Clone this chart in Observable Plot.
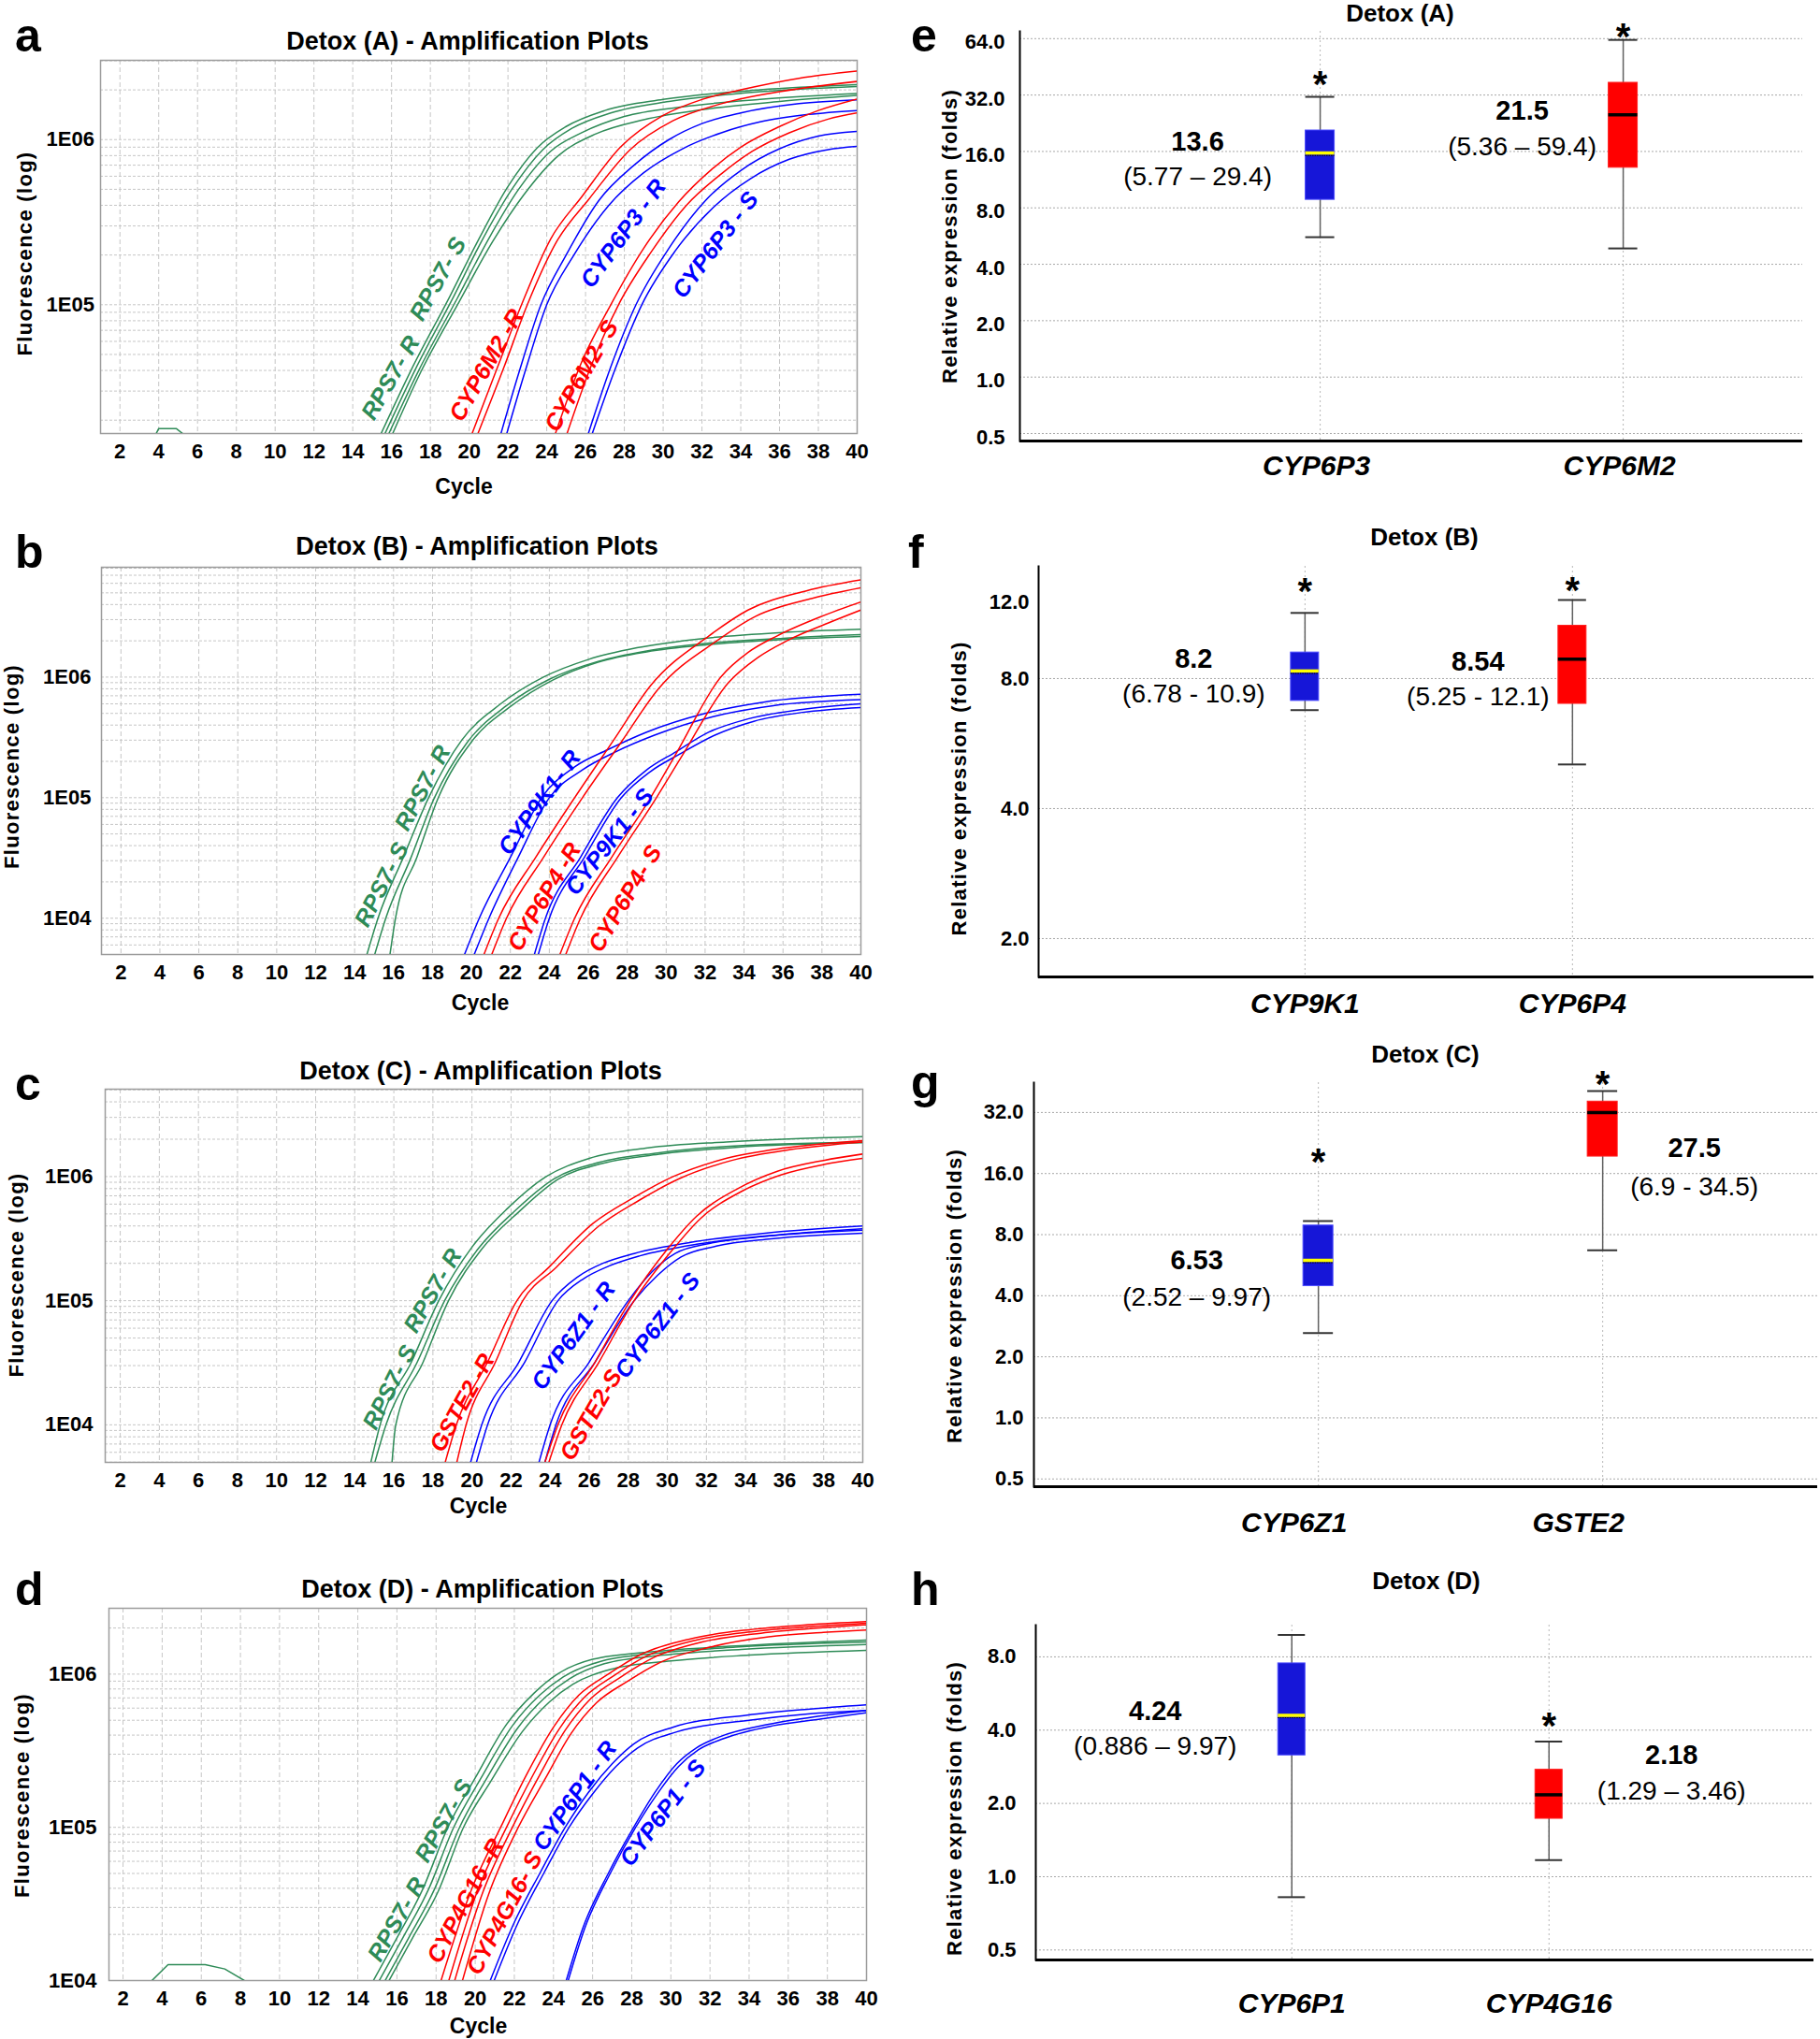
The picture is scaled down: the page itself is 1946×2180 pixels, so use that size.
<!DOCTYPE html>
<html><head><meta charset="utf-8">
<script src="https://cdn.jsdelivr.net/npm/d3@7"></script>
<script src="https://cdn.jsdelivr.net/npm/@observablehq/plot@0.6"></script>
<style>
body{margin:0;background:#fff}
#fig{position:relative;width:1946px;height:2180px;background:#fff;font-family:"Liberation Sans",Arial,Helvetica,sans-serif;color:#000;overflow:hidden}
.t{position:absolute;white-space:nowrap;line-height:1;font-weight:bold}
.panel{position:absolute}
</style></head><body><div id="fig"></div><script>
// ================= DATA =================
const cycleTicks = [2,4,6,8,10,12,14,16,18,20,22,24,26,28,30,32,34,36,38,40];

// ---- Panel a: Detox (A) amplification curves [cycle, fluorescence]
const aRPS7 = [
 [[15.4,1.6e4],[17,4.0e4],[19,1.12e5],[20.5,2.5e5],[22,5.2e5],[23.5,8.9e5],[25,1.2e6],[27,1.5e6],[30,1.75e6],[35,2.0e6],[40,2.15e6]],
 [[15.6,1.6e4],[17.2,4.0e4],[19.2,1.12e5],[20.7,2.5e5],[22.2,5.0e5],[23.8,8.7e5],[25.3,1.17e6],[27.3,1.45e6],[30.3,1.7e6],[35,1.95e6],[40,2.1e6]],
 [[15.8,1.6e4],[17.4,4.0e4],[19.4,1.1e5],[21,2.5e5],[22.5,4.9e5],[24.2,8.5e5],[25.8,1.1e6],[28,1.38e6],[31,1.58e6],[35,1.75e6],[40,1.9e6]],
 [[16.0,1.6e4],[17.5,3.9e4],[19.5,1.05e5],[21.2,2.4e5],[22.8,4.6e5],[24.6,8.0e5],[26.5,1.08e6],[29,1.32e6],[32,1.52e6],[36,1.7e6],[40,1.85e6]]
];
const aCYP6M2R = [
 [[20.1,1.6e4],[21.5,4.3e4],[22.7,1.0e5],[24.2,2.5e5],[25.8,4.5e5],[27.8,9.0e5],[30,1.4e6],[32,1.75e6],[34,2.0e6],[37,2.35e6],[40,2.6e6]],
 [[20.4,1.6e4],[21.8,4.2e4],[23.0,1.0e5],[24.5,2.4e5],[26.2,4.4e5],[28.3,8.7e5],[30.5,1.3e6],[33,1.65e6],[36,1.95e6],[40,2.25e6]]
];
const aCYP6P3R = [
 [[21.6,1.6e4],[22.6,4.0e4],[23.7,1.0e5],[25,2.0e5],[26.7,4.3e5],[28.5,7.0e5],[30.3,1.0e6],[32,1.25e6],[34,1.45e6],[37,1.65e6],[40,1.74e6]],
 [[21.9,1.6e4],[22.9,4.0e4],[24.0,1.0e5],[25.4,2.0e5],[27.2,4.0e5],[29,6.3e5],[31,8.8e5],[33,1.1e6],[35,1.28e6],[37.5,1.42e6],[40,1.5e6]]
];
const aCYP6M2S = [
 [[24.4,1.6e4],[25.8,4.5e4],[27.3,1.0e5],[29,2.2e5],[30.8,4.2e5],[32.5,6.6e5],[34,9.0e5],[36,1.2e6],[38,1.5e6],[40,1.76e6]],
 [[25.0,1.6e4],[26.3,4.3e4],[27.7,1.0e5],[29.4,2.1e5],[31.2,4.0e5],[33,6.2e5],[34.6,8.5e5],[36.5,1.1e6],[38.5,1.33e6],[40,1.45e6]]
];
const aCYP6P3S = [
 [[26.1,1.6e4],[27.3,4.2e4],[28.6,1.0e5],[30.3,2.2e5],[32.2,4.3e5],[34,6.5e5],[36,8.8e5],[38,1.05e6],[40,1.12e6]],
 [[26.3,1.6e4],[27.5,4.0e4],[28.9,1.0e5],[30.6,2.1e5],[32.6,3.9e5],[34.5,5.8e5],[36.5,7.6e5],[38.5,8.7e5],[40,9.1e5]]
];
const aNoise = [[3.8,1.6e4],[4.0,1.78e4],[4.9,1.78e4],[5.4,1.6e4]];
const aLabelText = ["RPS7- R","RPS7- S","CYP6M2 -R","CYP6M2- S","CYP6P3 - R","CYP6P3 - S"];

// ---- Panel b: Detox (B)
const bRPS7 = [
 [[14.6,4.8e3],[15.2,1.0e4],[16.5,3.2e4],[17.8,1.0e5],[19.5,3.0e5],[21.5,6.0e5],[23.7,1.0e6],[26,1.4e6],[28.5,1.75e6],[32,2.1e6],[36,2.35e6],[40,2.5e6]],
 [[15.0,4.8e3],[15.6,1.0e4],[16.9,3.2e4],[18.1,1.0e5],[19.8,2.9e5],[21.8,5.8e5],[24,9.6e5],[26.5,1.35e6],[29,1.65e6],[32,1.9e6],[36,2.1e6],[40,2.25e6]],
 [[15.8,4.8e3],[16.1,1.0e4],[17.2,3.2e4],[18.3,1.0e5],[20,2.9e5],[22,5.7e5],[24.2,9.5e5],[26.5,1.33e6],[29,1.62e6],[32,1.85e6],[36,2.05e6],[40,2.17e6]]
];
const bCYP9K1R = [
 [[19.6,4.8e3],[20.4,1.0e4],[22,3.2e4],[23.6,1.0e5],[25.3,1.8e5],[27,2.5e5],[29,3.5e5],[32,5.0e5],[35,6.2e5],[40,7.2e5]],
 [[20.1,4.8e3],[20.9,1.0e4],[22.4,3.2e4],[24,1.0e5],[25.7,1.7e5],[27.4,2.4e5],[29.4,3.3e5],[32.4,4.7e5],[35.5,5.8e5],[40,6.5e5]]
];
const bCYP6P4R = [
 [[20.6,4.8e3],[21.4,1.0e4],[23.3,3.2e4],[25.3,1.0e5],[27.3,3.0e5],[29.2,8.5e5],[32.2,2.2e6],[34.2,3.6e6],[37.2,5.2e6],[40,6.4e6]],
 [[21.0,4.8e3],[21.8,1.0e4],[23.7,3.2e4],[25.7,1.0e5],[27.7,2.9e5],[29.6,8.0e5],[32.6,2.0e6],[34.6,3.2e6],[37.5,4.5e6],[40,5.5e6]]
];
const bCYP9K1S = [
 [[23.2,4.8e3],[23.8,1.0e4],[25.6,3.2e4],[27.5,1.0e5],[29,1.7e5],[30.5,2.4e5],[32.2,3.5e5],[34.2,4.5e5],[37,5.4e5],[40,6.0e5]],
 [[23.4,4.8e3],[24.0,1.0e4],[25.8,3.2e4],[27.7,1.0e5],[29.2,1.65e5],[30.7,2.3e5],[32.5,3.3e5],[34.5,4.3e5],[37,5.1e5],[40,5.6e5]]
];
const bCYP6P4S = [
 [[24.5,4.8e3],[25.3,1.0e4],[27.2,3.2e4],[29.2,1.0e5],[30.5,2.3e5],[32.8,1.0e6],[34.2,1.6e6],[35.7,2.2e6],[38,3.2e6],[40,4.2e6]],
 [[24.8,4.8e3],[25.6,1.0e4],[27.5,3.2e4],[29.5,1.0e5],[30.8,2.2e5],[33.2,9.0e5],[34.7,1.45e6],[36.2,2.0e6],[38.3,2.8e6],[40,3.6e6]]
];
const bLabelText = ["RPS7- S","RPS7- R","CYP9K1- R","CYP6P4 -R","CYP9K1 - S","CYP6P4- S"];

// ---- Panel c: Detox (C)
const cRPS7 = [
 [[14.8,4.8e3],[15.3,1.0e4],[16.9,3.2e4],[18.3,1.0e5],[20,2.7e5],[21.8,5.5e5],[23.8,1.0e6],[26,1.4e6],[29,1.7e6],[33,1.9e6],[40,2.1e6]],
 [[15.0,4.8e3],[15.6,1.0e4],[17.2,3.2e4],[18.6,1.0e5],[20.3,2.6e5],[22.2,5.3e5],[24.2,9.6e5],[26.5,1.3e6],[29.5,1.55e6],[33,1.75e6],[40,1.9e6]],
 [[15.9,4.8e3],[16.1,1.0e4],[17.5,3.2e4],[18.8,1.0e5],[20.5,2.6e5],[22.4,5.2e5],[24.4,9.5e5],[26.7,1.28e6],[29.7,1.52e6],[33.5,1.72e6],[40,1.87e6]]
];
const cGSTE2R = [
 [[18.6,4.8e3],[19.2,1.0e4],[20.8,3.2e4],[22.3,1.0e5],[24,1.9e5],[26.2,4.2e5],[28.3,6.8e5],[30.3,1.0e6],[33,1.4e6],[36,1.7e6],[40,1.95e6]],
 [[19.2,4.8e3],[19.7,1.0e4],[21.2,3.2e4],[22.6,1.0e5],[24.3,1.85e5],[26.5,4.0e5],[28.6,6.5e5],[30.6,9.6e5],[33.3,1.35e6],[36.3,1.65e6],[40,1.9e6]]
];
const cCYP6Z1R = [
 [[19.9,4.8e3],[20.5,1.0e4],[22.4,3.2e4],[24.1,1.0e5],[25.4,1.55e5],[26.7,2.0e5],[28.3,2.4e5],[31.2,2.95e5],[35,3.5e5],[40,4.0e5]],
 [[20.2,4.8e3],[20.8,1.0e4],[22.7,3.2e4],[24.4,1.0e5],[25.7,1.5e5],[27,1.9e5],[28.6,2.3e5],[31.5,2.85e5],[35.3,3.35e5],[40,3.8e5]]
];
const cCYP6Z1S = [
 [[23.4,4.8e3],[24.0,1.0e4],[26.0,3.2e4],[28.0,1.0e5],[29.2,1.7e5],[30.4,2.4e5],[32.2,2.9e5],[35,3.3e5],[40,3.7e5]],
 [[23.7,4.8e3],[24.3,1.0e4],[26.3,3.2e4],[28.3,1.0e5],[29.5,1.6e5],[30.7,2.25e5],[32.5,2.75e5],[35.3,3.15e5],[40,3.5e5]]
];
const cGSTE2S = [
 [[23.7,4.8e3],[24.4,1.0e4],[26.3,3.2e4],[28.1,1.0e5],[30,2.6e5],[31.5,4.8e5],[33.6,8.0e5],[35.6,1.1e6],[38,1.35e6],[40,1.52e6]],
 [[23.9,4.8e3],[24.6,1.0e4],[26.5,3.2e4],[28.3,1.0e5],[30.2,2.5e5],[31.7,4.6e5],[33.8,7.6e5],[35.8,1.03e6],[38,1.25e6],[40,1.4e6]]
];
const cLabelText = ["RPS7- S","RPS7- R","GSTE2 -R","CYP6Z1 - R","GSTE2-S","CYP6Z1 - S"];

// ---- Panel d: Detox (D)
const dRPS7 = [
 [[14.7,9.5e3],[16,1.9e4],[17.3,3.9e4],[18.6,1e5],[20,2.1e5],[21.6,4.7e5],[23,7.5e5],[24.2,1.0e6],[26,1.25e6],[29,1.4e6],[33,1.52e6],[40,1.67e6]],
 [[15.0,9.5e3],[16.3,1.9e4],[17.6,3.9e4],[18.9,1e5],[20.3,2.1e5],[21.9,4.6e5],[23.3,7.3e5],[24.5,9.6e5],[26.3,1.2e6],[29.3,1.37e6],[33.3,1.5e6],[40,1.62e6]],
 [[15.3,9.5e3],[16.6,1.9e4],[17.9,3.9e4],[19.2,1e5],[20.6,2.1e5],[22.2,4.5e5],[23.6,7.1e5],[24.8,9.3e5],[26.6,1.17e6],[29.6,1.33e6],[33.6,1.45e6],[40,1.56e6]],
 [[15.5,9.5e3],[16.8,1.9e4],[18.1,3.8e4],[19.4,1e5],[20.8,2.0e5],[22.4,4.2e5],[23.8,6.6e5],[25,8.6e5],[27,1.08e6],[30,1.22e6],[34,1.33e6],[40,1.43e6]]
];
const dCYP4G16 = [
 [[18.2,9.5e3],[19.8,3.9e4],[21.3,1e5],[22.7,2.3e5],[24,4.5e5],[25.3,7.3e5],[26.8,1.0e6],[28.5,1.35e6],[31,1.7e6],[34,1.95e6],[37,2.1e6],[40,2.2e6]],
 [[18.6,9.5e3],[20.1,3.8e4],[21.6,1e5],[23,2.25e5],[24.3,4.4e5],[25.6,7.1e5],[27.1,9.8e5],[28.8,1.32e6],[31.3,1.67e6],[34.3,1.9e6],[37.3,2.05e6],[40,2.15e6]],
 [[18.9,9.5e3],[20.4,3.8e4],[21.9,1e5],[23.3,2.2e5],[24.6,4.3e5],[25.9,6.9e5],[27.4,9.5e5],[29.1,1.28e6],[31.6,1.62e6],[34.6,1.85e6],[37.6,2.0e6],[40,2.1e6]],
 [[19.3,9.5e3],[20.7,3.7e4],[22.2,1e5],[23.6,2.1e5],[24.9,4.1e5],[26.2,6.5e5],[27.8,9.0e5],[29.5,1.2e6],[32,1.5e6],[35,1.75e6],[37.8,1.87e6],[40,1.94e6]]
];
const dCYP6P1R = [
 [[20.7,9.5e3],[22,2.4e4],[23.3,5.0e4],[24.6,1e5],[25.8,1.7e5],[27,2.6e5],[28.1,3.5e5],[30.1,4.5e5],[33.9,5.4e5],[37,5.9e5],[40,6.3e5]],
 [[20.9,9.5e3],[22.2,2.4e4],[23.5,5.0e4],[24.8,1e5],[26,1.65e5],[27.2,2.5e5],[28.3,3.3e5],[30.3,4.2e5],[34,5.0e5],[37,5.5e5],[40,5.8e5]]
];
const dCYP6P1S = [
 [[24.6,9.5e3],[25.5,2.2e4],[26.8,5.0e4],[28.1,1e5],[29.2,1.7e5],[30.3,2.6e5],[31.3,3.3e5],[32.5,3.9e5],[35,4.7e5],[37.5,5.3e5],[40,5.8e5]],
 [[24.7,9.5e3],[25.6,2.2e4],[26.9,5.0e4],[28.2,1e5],[29.3,1.65e5],[30.4,2.5e5],[31.4,3.2e5],[32.7,3.8e5],[35.2,4.6e5],[37.7,5.1e5],[40,5.6e5]]
];
const dNoise = [[3.3,9.5e3],[4.3,1.27e4],[6.2,1.27e4],[7.2,1.19e4],[8.5,9.5e3]];
const dLabelText = ["RPS7- R","RPS7- S","CYP4G16 -R","CYP4G16- S","CYP6P1 - R","CYP6P1 - S"];

// ---- Box plots (relative expression, folds)
const genesE = ["CYP6P3","CYP6M2"];
const loE = [5.58,4.86], q1E = [8.83,13.1], medE = [15.7,25.1], q3E = [20.7,37.2], hiE = [31.3,63.0];
const notesE = [["13.6","(5.77 – 29.4)"],["21.5","(5.36 – 59.4)"]];
const starE = [true,true];

const genesF = ["CYP9K1","CYP6P4"];
const loF = [6.76,5.06], q1F = [7.1,6.99], medF = [8.33,8.87], q3F = [9.19,10.6], hiF = [11.35,12.16];
const notesF = [["8.2","(6.78 - 10.9)"],["8.54","(5.25 - 12.1)"]];
const starF = [true,true];

const genesG = ["CYP6Z1","GSTE2"];
const loG = [2.62,6.69], q1G = [4.46,19.4], medG = [5.98,32.0], q3G = [8.87,36.2], hiG = [9.34,40.8];
const notesG = [["6.53","(2.52 – 9.97)"],["27.5","(6.9 - 34.5)"]];
const starG = [true,true];

const genesH = ["CYP6P1","CYP4G16"];
const loH = [0.824,1.17], q1H = [3.15,1.73], medH = [4.6,2.17], q3H = [7.52,2.75], hiH = [9.84,3.59];
const notesH = [["4.24","(0.886 – 9.97)"],["2.18","(1.29 – 3.46)"]];
const starH = [false,true];

const foldTicks8 = [0.5,1,2,4,8,16,32,64];
const foldTicksF = [2,4,8,12];
const foldGridF = [2,4,8];
const foldTicksG = [0.5,1,2,4,8,16,32];
const foldTicksH = [0.5,1,2,4,8];

// ================= LAYOUT / STYLE =================
const FONT = "'Liberation Sans', Arial, Helvetica, sans-serif";
const COL = {g:"#2e8b57", r:"#ff0000", b:"#0000ff"};
const BOXFILL = ["#1616d8","#ff0000"], BOXEDGE = ["#4a4aff","#ff2020"], MEDC = ["#ffff00","#000000"];
const SPACED = ["Fluorescence (log)", "Relative expression (folds)"];
const fig = document.getElementById("fig");

function txt(s, x, baseline, size, opts = {}) {
  const d = document.createElement("div");
  d.className = "t"; d.textContent = s;
  d.style.fontSize = size + "px";
  d.style.top = (baseline - 0.8465 * size) + "px";
  d.style.left = x + "px";
  if (opts.center) d.style.transform = "translateX(-50%)";
  fig.appendChild(d);
}
function place(el, left, top) {
  const w = document.createElement("div");
  w.className = "panel"; w.style.left = left + "px"; w.style.top = top + "px";
  w.appendChild(el); fig.appendChild(w);
  d3.select(el).selectAll("text").filter(function() { return SPACED.includes(this.textContent); })
    .attr("letter-spacing", "1.3px").style("letter-spacing", "1.3px");
}

function ampPanel(p) {
  const rows = [];
  p.groups.forEach(([curves, k], gi) => curves.forEach((pts, ci) =>
    pts.forEach(([c, f]) => rows.push({id: gi + "-" + ci, c, f, col: COL[k]}))));
  const noise = p.noise.map(([c, f]) => ({c, f}));
  const labels = p.labelText.map((t, i) => ({t, c: p.labelPos[i][0], f: p.labelPos[i][1], a: p.labelPos[i][2], col: COL[p.labelPos[i][3]]}));
  const minor = d3.scaleLog().domain(p.yDomain).ticks();
  return Plot.plot({
    width: 960, height: p.height,
    marginLeft: p.mL, marginRight: p.mR, marginTop: p.mT, marginBottom: p.mB,
    style: {fontFamily: FONT, fontSize: "22px", fontWeight: "bold", color: "#000", background: "transparent", overflow: "visible"},
    x: {domain: p.xDomain, label: null},
    y: {type: "log", domain: p.yDomain, label: null},
    color: {type: "identity"},
    marks: [
      Plot.gridY(minor, {stroke: "#c6c6c6", strokeOpacity: 1, strokeDasharray: "3,2"}),
      Plot.gridX(cycleTicks, {stroke: "#c6c6c6", strokeOpacity: 1, strokeDasharray: "5,3"}),
      Plot.frame({stroke: "#9c9c9c", strokeWidth: 1.5}),
      Plot.axisX(cycleTicks, {tickSize: 0, tickPadding: 11, fontSize: 22, label: null}),
      Plot.axisY(p.yTicks, {tickSize: 0, tickPadding: p.yPad, fontSize: 22, label: null,
        tickFormat: d => "1E0" + Math.round(Math.log10(d))}),
      Plot.line(noise, {x: "c", y: "f", stroke: COL.g, strokeWidth: 1.5, clip: true}),
      Plot.line(rows, {x: "c", y: "f", z: "id", stroke: "col", strokeWidth: 1.5, curve: "monotone-x", clip: true}),
      Plot.text(labels, {x: "c", y: "f", text: "t", rotate: "a", fill: "col", fontSize: 25, fontStyle: "italic", fontWeight: "bold"}),
      Plot.text(["Cycle"], {text: d => d, frameAnchor: "bottom", lineAnchor: "middle", textAnchor: "middle", dy: p.cycleDy, dx: p.cycleDx, fontSize: 23}),
      Plot.text(["Fluorescence (log)"], {text: d => d, frameAnchor: "left", textAnchor: "middle", lineAnchor: "middle", dx: p.flDx, dy: p.flDy, rotate: -90, fontSize: 22})
    ]
  });
}

function boxPanel(p) {
  const rows = p.genes.map((gene, i) => ({gene, lo: p.lo[i], q1: p.q1[i], med: p.med[i], q3: p.q3[i], hi: p.hi[i],
    fill: BOXFILL[i], edge: BOXEDGE[i], medc: MEDC[i]}));
  const notes = [];
  p.notes.forEach((pair, i) => {
    notes.push(Plot.text([pair[0]], {text: d => d, x: () => p.genes[i], y: () => p.noteY[i][0], dx: p.noteDx[i], fontSize: 29, fontWeight: "bold"}));
    notes.push(Plot.text([pair[1]], {text: d => d, x: () => p.genes[i], y: () => p.noteY[i][1], dx: p.noteDx[i], fontSize: 28, fontWeight: "normal"}));
  });
  const stars = p.genes.map((gene, i) => ({gene, y: p.starY[i]})).filter((d, i) => p.star[i]);
  return Plot.plot({
    width: 986, height: p.height,
    marginLeft: p.mL, marginRight: p.mR, marginTop: p.mT, marginBottom: p.mB,
    style: {fontFamily: FONT, fontSize: "22px", fontWeight: "bold", color: "#000", background: "transparent", overflow: "visible"},
    x: {type: "band", domain: p.genes, paddingInner: p.pi, paddingOuter: p.po, align: p.align, round: false, label: null},
    y: {type: "log", base: 2, domain: p.yDomain, label: null},
    color: {type: "identity"},
    marks: [
      Plot.ruleY(p.grid, {stroke: "#a8a8a8", strokeDasharray: "2,2"}),
      Plot.ruleX(p.genes, {x: d => d, stroke: "#b8b8b8", strokeDasharray: "2,3"}),
      Plot.ruleX(rows, {x: "gene", y1: "lo", y2: "hi", stroke: "#606060", strokeWidth: 1.5}),
      Plot.barY(rows, {x: "gene", y1: "q1", y2: "q3", fill: "fill", stroke: "edge", strokeWidth: 1}),
      Plot.tickY(rows.slice(0, 1), {x: "gene", y: "med", stroke: "#000", strokeWidth: 1.2, strokeDasharray: "1.5,1", dy: 2.5}),
      Plot.tickY(rows, {x: "gene", y: "med", stroke: "medc", strokeWidth: 3.5}),
      Plot.tickY(rows, {x: "gene", y: "lo", stroke: "#333", strokeWidth: 2}),
      Plot.tickY(rows, {x: "gene", y: "hi", stroke: "#333", strokeWidth: 2}),
      Plot.ruleY([p.yDomain[0]], {stroke: "#000", strokeWidth: 3}),
      Plot.frame({anchor: "left", stroke: "#000", strokeWidth: 2}),
      Plot.axisY(p.ticks, {tickSize: 0, tickPadding: p.yPad, dy: p.yLabDy, fontSize: 22, label: null, tickFormat: d => d.toFixed(1)}),
      Plot.axisX(p.genes, {tickSize: 0, tickPadding: p.xPad, dx: p.xDx, fontSize: 30, fontStyle: "italic", label: null}),
      ...notes,
      Plot.text(stars, {x: "gene", y: "y", text: () => "*", fontSize: 40, dy: 10}),
      Plot.text(["Relative expression (folds)"], {text: d => d, frameAnchor: "left", textAnchor: "middle", lineAnchor: "middle", dx: p.ylDx, dy: p.ylDy, rotate: -90, fontSize: 22})
    ]
  });
}

// ---- amplification panels
place(ampPanel({
  height: 540, mL: 107, mR: 44, mT: 64, mB: 77, xDomain: [1, 40], yDomain: [1.66e4, 3.02e6], yTicks: [1e5, 1e6], yPad: 6.5,
  cycleDy: 57, cycleDx: -16, flDx: -81, flDy: 7,
  groups: [[aRPS7,"g"],[aCYP6M2R,"r"],[aCYP6P3R,"b"],[aCYP6M2S,"r"],[aCYP6P3S,"b"]], noise: aNoise,
  labelText: aLabelText,
  labelPos: [[15.96,3.6e4,-60,"g"],[18.4,1.43e5,-61,"g"],[20.9,4.3e4,-60,"r"],[25.8,3.7e4,-60,"r"],[27.95,2.7e5,-54,"b"],[32.7,2.3e5,-53,"b"]]
}), 0, 0);

place(ampPanel({
  height: 540, mL: 108, mR: 40, mT: 66, mB: 60, xDomain: [1, 40], yDomain: [5.0e3, 8.15e6], yTicks: [1e4, 1e5, 1e6], yPad: 11,
  cycleDy: 52, cycleDx: -1, flDx: -96, flDy: 6,
  groups: [[bRPS7,"g"],[bCYP9K1R,"b"],[bCYP6P4R,"r"],[bCYP9K1S,"b"],[bCYP6P4S,"r"]], noise: [],
  labelText: bLabelText,
  labelPos: [[15.4,1.9e4,-63,"g"],[17.5,1.2e5,-62,"g"],[23.5,9.1e4,-54,"b"],[23.75,1.5e4,-59.5,"r"],[27.1,4.3e4,-52,"b"],[27.9,1.45e4,-59,"r"]]
}), 0, 540);

place(ampPanel({
  height: 540, mL: 112, mR: 38, mT: 64, mB: 77, xDomain: [1.23, 40], yDomain: [4.98e3, 5.06e6], yTicks: [1e4, 1e5, 1e6], yPad: 13,
  cycleDy: 47, cycleDx: -6, flDx: -95, flDy: -1,
  groups: [[cRPS7,"g"],[cGSTE2R,"r"],[cCYP6Z1R,"b"],[cCYP6Z1S,"b"],[cGSTE2S,"r"]], noise: [],
  labelText: cLabelText,
  labelPos: [[15.8,2.0e4,-63,"g"],[18.0,1.2e5,-60,"g"],[19.5,1.5e4,-61,"r"],[25.2,5.2e4,-54.5,"b"],[26.1,1.2e4,-60,"r"],[29.5,6.3e4,-53,"b"]]
}), 0, 1100);

place(ampPanel({
  height: 540, mL: 116, mR: 34, mT: 79, mB: 63, xDomain: [1.28, 40], yDomain: [1.0e4, 2.69e6], yTicks: [1e4, 1e5, 1e6], yPad: 13,
  cycleDy: 49, cycleDx: -10, flDx: -93, flDy: 1,
  groups: [[dRPS7,"g"],[dCYP4G16,"r"],[dCYP6P1R,"b"],[dCYP6P1S,"b"]], noise: dNoise,
  labelText: dLabelText,
  labelPos: [[16.0,2.5e4,-60,"g"],[18.4,1.1e5,-60,"g"],[19.5,3.3e4,-62,"r"],[21.5,2.75e4,-62,"r"],[25.1,1.6e5,-55,"b"],[29.6,1.24e5,-53,"b"]]
}), 0, 1640);

// ---- box plot panels
place(boxPanel({
  height: 540, mL: 130, mR: 19, mT: 33, mB: 69, pi: 0.9043, po: 0.7438, align: 0.634,
  yDomain: [0.456, 70], ticks: foldTicks8, grid: foldTicks8, yPad: 16, yLabDy: 4, xPad: 15, xDx: -4, ylDx: -75, ylDy: 0,
  genes: genesE, lo: loE, q1: q1E, med: medE, q3: q3E, hi: hiE, notes: notesE, star: starE,
  noteY: [[18.0, 11.7],[26.3, 17.0]], noteDx: [-131, -108], starY: [40.3, 72.4]
}), 960, 0);

place(boxPanel({
  height: 560, mL: 150, mR: 7, mT: 65, mB: 56, pi: 0.8951, po: 0.8969, align: 0.526,
  yDomain: [1.63, 14.55], ticks: foldTicksF, grid: foldGridF, yPad: 10, yLabDy: 0, xPad: 17, xDx: 0, ylDx: -85, ylDy: 18,
  genes: genesF, lo: loF, q1: q1F, med: medF, q3: q3F, hi: hiF, notes: notesF, star: starF,
  noteY: [[8.88, 7.35],[8.75, 7.24]], noteDx: [-119, -101], starY: [13.3, 13.4]
}), 960, 540);

place(boxPanel({
  height: 560, mL: 145, mR: 3, mT: 57, mB: 71, pi: 0.8947, po: 0.8257, align: 0.574,
  yDomain: [0.458, 44.9], ticks: foldTicksG, grid: foldTicksG, yPad: 11, yLabDy: 0, xPad: 27, xDx: -26, ylDx: -85, ylDy: 12,
  genes: genesG, lo: loG, q1: q1G, med: medG, q3: q3G, hi: hiG, notes: notesG, star: starG,
  noteY: [[5.98, 3.91],[21.2, 13.8]], noteDx: [-130, 98], starY: [20.1, 48.4]
}), 960, 1100);

place(boxPanel({
  height: 520, mL: 147, mR: 7, mT: 77, mB: 85, pi: 0.8945, po: 0.96, align: 0.491,
  yDomain: [0.455, 10.8], ticks: foldTicksH, grid: foldTicksH, yPad: 21, yLabDy: 0, xPad: 35, xDx: 0, ylDx: -87, ylDy: 17,
  genes: genesH, lo: loH, q1: q1H, med: medH, q3: q3H, hi: hiH, notes: notesH, star: starH,
  noteY: [[4.79, 3.43],[3.15, 2.24]], noteDx: [-146, 131], starY: [0, 4.53]
}), 960, 1660);

// ---- titles and panel letters
txt("Detox (A) - Amplification Plots", 500, 54, 27, {center: true});
txt("Detox (B) - Amplification Plots", 510, 594, 27, {center: true});
txt("Detox (C) - Amplification Plots", 514, 1155, 27, {center: true});
txt("Detox (D) - Amplification Plots", 516, 1709, 27, {center: true});
txt("Detox (A)", 1497, 23, 26, {center: true});
txt("Detox (B)", 1523, 583, 26, {center: true});
txt("Detox (C)", 1524, 1136, 26, {center: true});
txt("Detox (D)", 1525, 1699, 26, {center: true});
[["a",16,55],["b",16,607],["c",16,1176],["d",16,1716],["e",974,55],["f",971,607],["g",974,1174],["h",974,1716]]
  .forEach(([s, x, y]) => txt(s, x, y, 50));
</script></body></html>
